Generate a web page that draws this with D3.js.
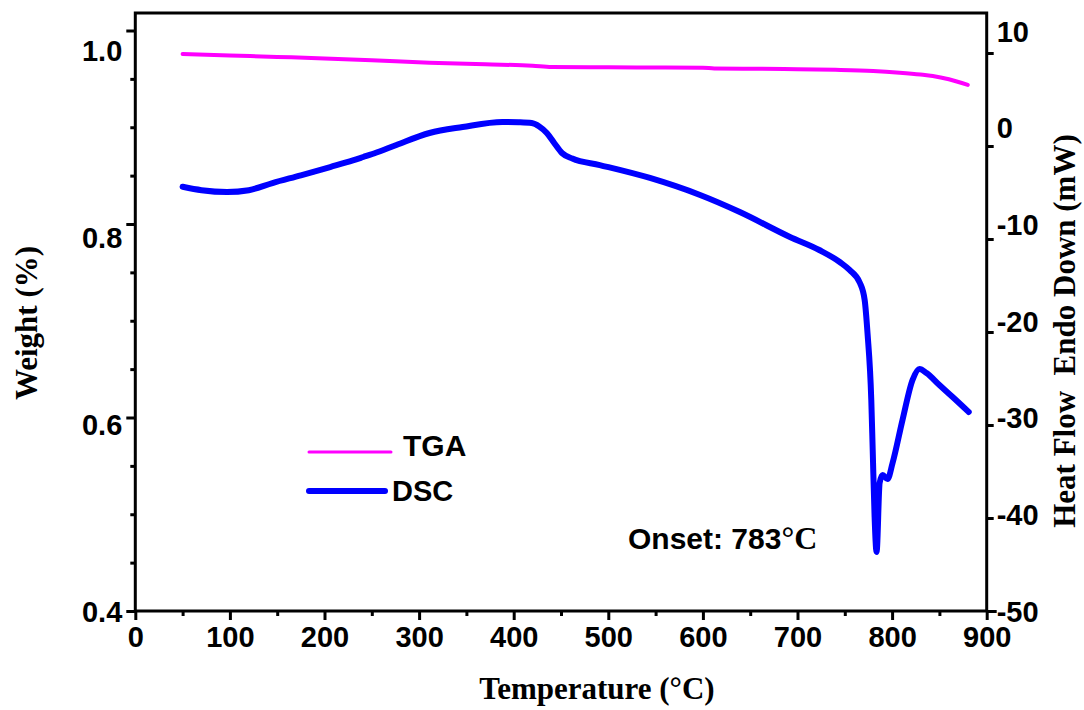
<!DOCTYPE html>
<html>
<head>
<meta charset="utf-8">
<title>TGA / DSC</title>
<script src="https://cdn.jsdelivr.net/npm/d3@7/dist/d3.min.js"></script>
<style>
    body { margin: 0; background: #fff; }
    .tick text { font-family: "Liberation Sans", Arial, sans-serif; font-weight: bold; font-size: 29px; fill: #000; }
    .title { font-family: "Liberation Serif", "Times New Roman", serif; font-weight: bold; font-size: 31px; fill: #000; }
    .lbl { font-family: "Liberation Sans", Arial, sans-serif; font-weight: bold; font-size: 29px; fill: #000; }
</style>
</head>
<body>
<svg width="1084" height="710"></svg>
<script>
// TGA curve (temperature in °C, weight fraction)
const tgaTemp   = [50, 100, 150, 200, 250, 311, 370, 420, 440, 500, 560, 600, 612, 660, 700, 740, 780, 808, 830, 843, 860, 880];
const tgaWeight = [0.9757, 0.9742, 0.9727, 0.9711, 0.9692, 0.9667, 0.9650, 0.9636, 0.9623, 0.9620, 0.9617, 0.9615, 0.9608, 0.9604, 0.9600, 0.9594, 0.9582, 0.9564, 0.9545, 0.9530, 0.9496, 0.9437];

// DSC curve (temperature in °C, heat flow in mW)
const dscTemp = [50, 70, 97, 120, 145, 175, 206, 230, 241, 255, 276, 311, 346, 388, 405, 419, 427, 435, 443, 451, 462, 491,
                 544, 597, 639, 692, 723, 745, 755, 766, 771, 774, 778, 779.5, 781.5, 783.6, 786.8, 790, 795.2, 800.5,
                 811, 821.6, 829, 836.4, 850, 864, 881];
const dscHeat = [-4.38, -4.75, -4.95, -4.75, -3.98, -3.15, -2.26, -1.55, -1.18, -0.70, 0.11, 1.40, 2.04, 2.58, 2.55, 2.47, 2.10, 1.40, 0.30, -0.75, -1.35, -2.05,
                 -3.44, -5.27, -7.10, -9.78, -11.18, -12.50, -13.33, -14.73, -16.56, -20.11, -27.31, -32.69, -39.89, -43.66, -36.24, -35.38, -35.81, -34.09,
                 -29.46, -25.16, -23.98, -24.41, -25.70, -26.99, -28.60];

const xTicks      = d3.range(0, 901, 50);
const xLabels     = d3.range(0, 901, 100);
const leftTicks   = d3.range(0, 13).map(i => +(0.4 + i * 0.05).toFixed(2));
const leftLabels  = [0.4, 0.6, 0.8, 1.0];
const rightTicks  = [-50, -40, -30, -20, -10, 0, 10];

const svg = d3.select("svg");
const plotL = 135.3, plotR = 986.7, plotT = 13, plotB = 611;

const x = d3.scaleLinear().domain([0, 900]).range([plotL, plotR]);
const yW = d3.scaleLinear().domain([0.4, 1.0]).range([plotB, 30.5]);
const yH = d3.scaleLinear().domain([-50, 10]).range([plotB, 53]);

const isLeftLabel = d => leftLabels.some(v => Math.abs(v - d) < 1e-6);

// bottom axis
const gx = svg.append("g").attr("transform", `translate(0,${plotB})`)
    .call(d3.axisBottom(x).tickValues(xTicks).tickSizeOuter(0)
        .tickFormat(d => xLabels.includes(d) ? d : ""));
gx.select(".domain").remove();
gx.selectAll(".tick line").attr("stroke", "#000").attr("stroke-width", 3)
    .attr("y2", d => xLabels.includes(d) ? 9 : 5);
gx.selectAll(".tick text").attr("y", 36).attr("dy", null);

// left axis
const gl = svg.append("g").attr("transform", `translate(${plotL},0)`)
    .call(d3.axisLeft(yW).tickValues(leftTicks).tickSizeOuter(0)
        .tickFormat(d => isLeftLabel(d) ? d3.format(".1f")(d) : ""));
gl.select(".domain").remove();
gl.selectAll(".tick line").attr("stroke", "#000").attr("stroke-width", 3)
    .attr("x2", d => isLeftLabel(d) ? -9 : -5);
gl.selectAll(".tick text").attr("x", -13).attr("dy", null)
    .attr("y", d => 10 + (d - 0.4) / 0.6 * 20);

// right axis (plain hyphen minus like the original)
const gr = svg.append("g").attr("transform", `translate(${plotR},0)`)
    .call(d3.axisRight(yH).tickValues(rightTicks).tickSizeOuter(0).tickFormat(d => String(d)));
gr.select(".domain").remove();
gr.selectAll(".tick line").attr("stroke", "#000").attr("stroke-width", 3)
    .attr("x2", d => d === -50 ? 10 : 7);
gr.selectAll(".tick text").attr("x", 10).attr("dy", null)
    .attr("y", d => 10 - (d + 50) / 60 * 22);

// frame
svg.append("rect")
    .attr("x", plotL).attr("y", plotT)
    .attr("width", plotR - plotL).attr("height", plotB - plotT)
    .attr("fill", "none").attr("stroke", "#000").attr("stroke-width", 3);

// curves
const tga = tgaTemp.map((t, i) => [t, tgaWeight[i]]);
const dsc = dscTemp.map((t, i) => [t, dscHeat[i]]);

svg.append("path").datum(tga)
    .attr("fill", "none").attr("stroke", "#ff00ff").attr("stroke-width", 4)
    .attr("stroke-linecap", "round")
    .attr("d", d3.line().x(d => x(d[0])).y(d => yW(d[1])).curve(d3.curveMonotoneX));

svg.append("path").datum(dsc)
    .attr("fill", "none").attr("stroke", "#0000ff").attr("stroke-width", 6)
    .attr("stroke-linecap", "round").attr("stroke-linejoin", "round")
    .attr("d", d3.line().x(d => x(d[0])).y(d => yH(d[1])).curve(d3.curveMonotoneX));

// legend
svg.append("line").attr("x1", 309).attr("x2", 391).attr("y1", 452).attr("y2", 452)
    .attr("stroke", "#ff00ff").attr("stroke-width", 3).attr("stroke-linecap", "round");
svg.append("text").attr("class", "lbl").attr("x", 403).attr("y", 456).style("font-size", "30px").text("TGA");
svg.append("line").attr("x1", 309).attr("x2", 385).attr("y1", 491).attr("y2", 491)
    .attr("stroke", "#0000ff").attr("stroke-width", 6).attr("stroke-linecap", "round");
svg.append("text").attr("class", "lbl").attr("x", 392).attr("y", 501).text("DSC");

// annotation
const onset = svg.append("text").attr("class", "lbl").attr("x", 628).attr("y", 549).style("font-size", "30px");
onset.append("tspan").text("Onset: 783");
onset.append("tspan").style("font-family", "'Liberation Serif', serif").style("font-size", "32px").text("°C");

// axis titles
svg.append("text").attr("class", "title").attr("text-anchor", "middle")
    .attr("x", 597).attr("y", 699).text("Temperature (°C)");
svg.append("text").attr("class", "title").attr("text-anchor", "middle")
    .attr("transform", "translate(37,323) rotate(-90)").text("Weight (%)");
svg.append("text").attr("class", "title").attr("text-anchor", "middle")
    .attr("transform", "translate(1075,331) rotate(-90)").attr("xml:space", "preserve")
    .text("Heat Flow  Endo Down (mW)");
</script>
</body>
</html>
